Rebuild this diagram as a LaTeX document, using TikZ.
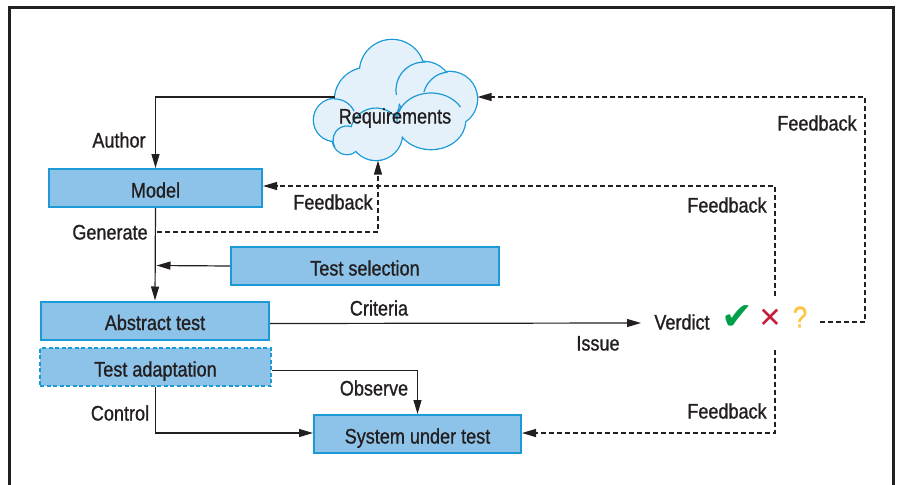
\documentclass[tikz,border=0pt]{standalone}
\usepackage{fontspec}
\setmainfont{Liberation Sans}[FakeStretch=0.86, FakeBold=1]
\newfontfamily\symfont{DejaVu Sans}
\usetikzlibrary{arrows.meta}
\definecolor{boxfill}{HTML}{8DC3E8}
\definecolor{boxline}{HTML}{1B9AD7}
\definecolor{cloudfill}{HTML}{E4F1FA}
\definecolor{ink}{HTML}{231F20}
\definecolor{okgreen}{HTML}{00A04B}
\definecolor{badred}{HTML}{C41E3A}
\definecolor{askyellow}{HTML}{FDC543}
\tikzset{
  stagebox/.style={draw=boxline, fill=boxfill, line width=2pt, inner sep=0pt,
    minimum height=38pt, text height=19pt, text depth=0pt},
  dashedbox/.style={stagebox, dash pattern=on 4pt off 2.5pt},
  lbl/.style={inner sep=0pt, text height=15pt, text depth=0pt},
  puffedge/.style={draw=boxline, line width=2.6pt},
  pufffill/.style={fill=cloudfill},
  puffarc/.style={draw=boxline, line width=1.2pt},
  flow/.style={draw=ink, line width=1.2pt, -{Triangle[length=14pt,width=8pt]}},
  fback/.style={flow, dash pattern=on 5pt off 3pt},
  frame/.style={draw=ink, line width=3pt}
}
\begin{document}
\begin{tikzpicture}[x=1pt, y=-1pt, font=\fontsize{21}{24}\selectfont, text=ink]
\useasboundingbox (0,0) rectangle (898,485);

% outer frame (open at the bottom)
\draw[frame] (9,485) -- (9,7.5) -- (893,7.5) -- (893,485);

% requirements cloud: outline of the union of puffs, then a few inner folds
\def\puffs{392/72/32/32, 367/100/32/32, 424/90/28/28, 450/99/27/27,
           431/121/34/28, 335/120/21/21, 347/140/14/14, 376/134/26/26}
\foreach \cx/\cy/\rx/\ry in \puffs
  \path[puffedge] (\cx,\cy) ellipse[x radius=\rx pt, y radius=\ry pt];
\foreach \cx/\cy/\rx/\ry in \puffs
  \path[pufffill] (\cx,\cy) ellipse[x radius=\rx pt, y radius=\ry pt];
% inner folds: centre, radii, start and end angle (standard orientation)
\foreach \cx/\cy/\rx/\ry/\a/\b in {424/90/28/28/190/85, 450/99/27/27/165/95,
                                   335/120/21/21/92/25, 376/134/26/26/165/35,
                                   431/121/34/28/185/30, 347/140/14/14/210/75}
  \draw[puffarc] (\cx,\cy) ++({\rx*cos(\a)*1pt},{\ry*sin(\a)*1pt})
    arc[start angle=\a, end angle=\b, x radius=\rx pt, y radius=\ry pt];
\node[lbl] (req) at (395,116) {Requirements};
\coordinate (reqL) at (335,97);
\coordinate (reqR) at (477.5,97);
\coordinate (reqB) at (378,160.5);

% process stages
\node[stagebox, minimum width=213pt] (model)    at (155.5,188) {Model};
\node[stagebox, minimum width=268pt] (testsel)  at (365,266)   {Test selection};
\node[stagebox, minimum width=228pt] (abstract) at (155,320.5) {Abstract test};
\node[dashedbox, minimum width=231pt] (adapt)   at (155.5,367) {Test adaptation};
\node[stagebox, minimum width=207pt] (sut)      at (417.5,434) {System under test};

% verdict and its outcomes
\node[lbl] (verdict) at (682,322) {Verdict};
\node[inner sep=0pt, text=okgreen, font=\symfont\fontsize{38}{38}\selectfont] (pass) at (737,318) {✔};
\node[inner sep=0pt, text=badred, font=\symfont\fontsize{28}{28}\selectfont] (fail) at (770,318) {✕};
\node[inner sep=0pt, text=askyellow, font=\fontsize{30}{30}\selectfont] (unknown) at (800,317) {?};

% free ends of connectors
\coordinate (genStart) at (157,232);
\coordinate (selTip) at (156.5,265.5);
\coordinate (fbUp) at (775,296);
\coordinate (fbDown) at (775,350);
\coordinate (fbRight) at (820,322);
\coordinate (verdictIn) at (641,323);

% solid flow
\draw[flow] (reqL) -| (model.north);
\draw[flow] (model.south) -- (abstract.north);
\draw[flow] (testsel.west) -- (selTip);
\draw[flow] ([yshift=-3pt]abstract.east) -- (verdictIn);
\draw[flow] ([yshift=-3.5pt]adapt.east) -| (sut.north);
\draw[flow] (adapt.south) |- ([yshift=1pt]sut.west);

% feedback loops
\draw[fback] (genStart) -| (reqB);
\draw[fback] (fbUp) |- ([yshift=2pt]model.east);
\draw[fback] (fbDown) |- ([yshift=1pt]sut.east);
\draw[fback] (fbRight) -- ++(45,0) |- (reqR);

% connector labels
\node[lbl] (lAuthor)   at (119,140) {Author};
\node[lbl] (lGenerate) at (110,232) {Generate};
\node[lbl] (lFb1)      at (333,202) {Feedback};
\node[lbl] (lFb2)      at (817,123) {Feedback};
\node[lbl] (lFb3)      at (727,205) {Feedback};
\node[lbl] (lCriteria) at (379,308) {Criteria};
\node[lbl] (lIssue)    at (598,343) {Issue};
\node[lbl] (lObserve)  at (374,388) {Observe};
\node[lbl] (lControl)  at (120,413) {Control};
\node[lbl] (lFb4)      at (727,411) {Feedback};
\end{tikzpicture}
\end{document}
